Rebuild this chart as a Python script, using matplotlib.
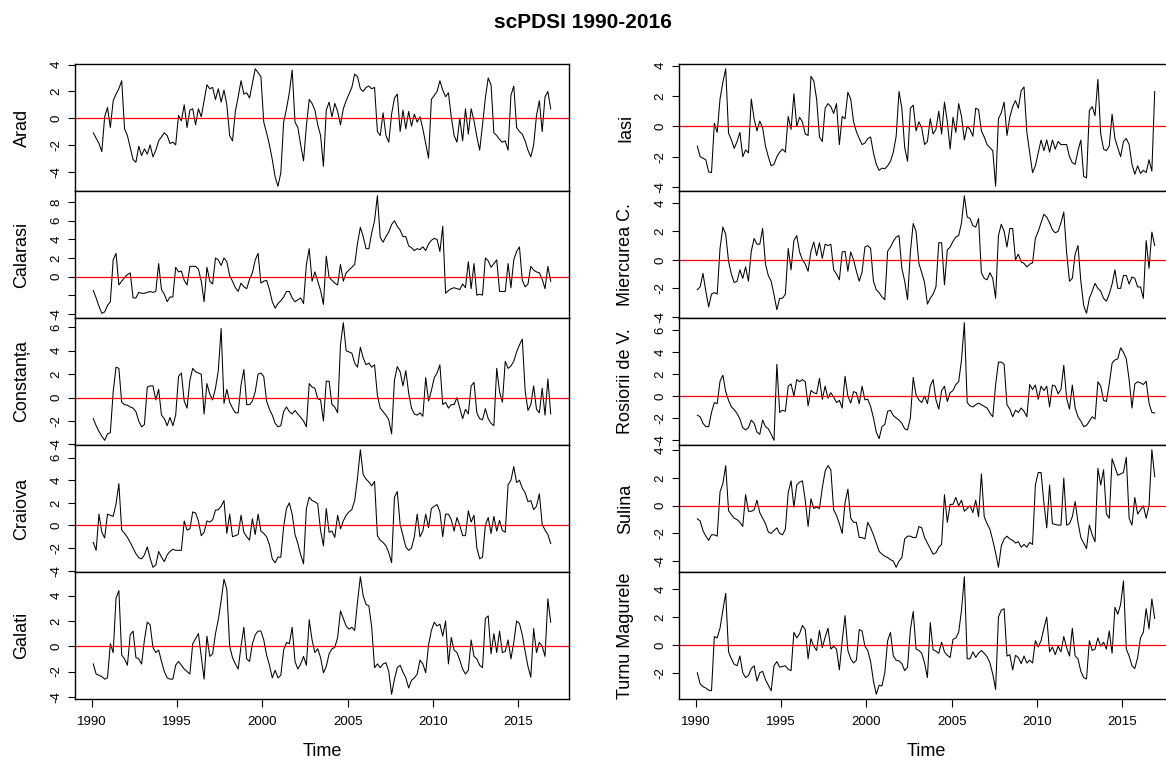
import matplotlib
matplotlib.use('Agg')
import matplotlib.pyplot as plt
import numpy as np
from matplotlib.ticker import MultipleLocator, FuncFormatter

plt.rcParams['font.family'] = ['Liberation Sans', 'DejaVu Sans']
plt.rcParams['axes.unicode_minus'] = False

# scPDSI every two months, Feb 1990 .. Dec 2016
time = 1990 + (2 * np.arange(162) + 1) / 12.0

arad = [
    -1.1, -1.5, -1.9, -2.5, 0.1, 0.8,
    -0.7, 1.3, 1.8, 2.2, 2.8, -0.8,
    -1.3, -2.2, -3.1, -3.3, -2.1, -2.8,
    -2.3, -2.7, -2.0, -2.9, -2.4, -1.7,
    -1.4, -1.1, -1.3, -1.9, -1.8, -2.0,
    0.2, -0.2, 1.0, -0.7, 0.6, 0.7,
    -0.5, 0.7, 0.1, 1.3, 2.5, 2.2,
    2.3, 1.4, 2.2, 1.2, 2.1, 1.0,
    -1.3, -1.7, 0.5, 1.6, 2.8, 1.8,
    1.9, 1.5, 2.6, 3.7, 3.4, 3.1,
    -0.3, -1.1, -2.0, -3.1, -4.4, -5.1,
    -4.1, -0.3, 0.7, 1.9, 3.6, -0.3,
    -0.7, -2.0, -3.2, -0.6, 1.4, 1.1,
    0.6, -0.5, -1.3, -3.6, 0.6, 1.2,
    0.1, 1.1, 0.5, -0.5, 0.7, 1.3,
    1.8, 2.3, 3.3, 3.1, 2.2, 2.0,
    2.3, 2.4, 2.2, 2.3, -1.0, -1.3,
    0.4, -1.3, -1.8, 0.3, 1.5, 1.8,
    -1.0, 0.6, -0.8, 0.5, -0.6, 0.3,
    -0.3, 0.1, -0.8, -1.9, -3.0, 1.4,
    1.7, 2.0, 2.8, 2.1, 1.6, 1.9,
    0.1, -1.3, -1.8, 0.0, -1.7, 0.7,
    -1.2, 0.7, -0.2, -1.4, -2.4, -0.5,
    1.5, 3.0, 2.5, -1.1, -1.3, -1.6,
    -1.8, -1.7, -2.4, 1.7, 2.4, -0.7,
    -1.0, -1.2, -1.7, -2.4, -2.9, -2.0,
    0.2, 1.3, -1.0, 1.6, 2.0, 0.7,
]

calarasi = [
    -1.5, -2.3, -3.2, -3.95, -3.8, -3.1,
    -2.7, 1.8, 2.5, -0.9, -0.5, -0.1,
    0.2, 0.4, -2.3, -2.3, -1.7, -1.8,
    -1.8, -1.7, -1.6, -1.7, -1.6, 1.4,
    -1.4, -1.9, -2.7, -2.2, -2.2, 1.0,
    0.5, 0.6, -0.4, -0.9, 1.1, 1.1,
    1.1, 0.8, -0.5, -2.7, 1.0, -0.5,
    -0.8, 2.0, 1.8, 1.2, 2.0, 1.6,
    0.1, -0.5, -1.2, -1.6, -0.7, -1.1,
    -1.3, -0.3, 0.4, 1.8, 2.5, -0.7,
    -0.5, -0.4, -1.4, -2.7, -3.4, -2.9,
    -2.6, -2.2, -1.6, -1.6, -2.3, -2.7,
    -2.5, -2.3, -2.9, 1.3, 3.0, -0.5,
    0.5, -0.5, -1.5, -3.0, 2.2, -0.1,
    -0.4, -0.7, -0.9, 1.3, -0.5, 0.4,
    0.7, 1.0, 1.3, 3.6, 5.3, 4.3,
    3.0, 3.0, 4.7, 6.0, 8.7, 4.2,
    3.7, 4.3, 4.8, 5.6, 6.0, 5.4,
    5.0, 4.3, 4.3, 3.3, 3.1, 2.8,
    3.0, 2.9, 3.2, 2.8, 3.5, 3.9,
    4.1, 4.0, 2.7, 5.4, -1.8, -1.5,
    -1.3, -1.2, -1.3, -1.4, -0.8, -1.2,
    1.6, -1.3, 1.4, -2.0, -1.9, -2.0,
    2.0, 1.7, 1.0, 1.4, 1.8, -1.6,
    -1.6, -1.6, 1.4, -1.2, 1.8, 2.7,
    3.2, -0.4, -1.1, -0.8, 1.1, 0.7,
    0.5, 0.4, -0.3, -1.3, 1.1, -0.5,
]

constanta = [
    -1.8, -2.4, -2.9, -3.3, -3.65, -3.1,
    -3.0, 0.5, 2.6, 2.5, -0.4, -0.6,
    -0.65, -0.8, -0.9, -1.2, -2.0, -2.5,
    -2.3, 0.9, 1.0, 1.0, -0.2, 0.7,
    -1.5, -1.8, -2.4, -1.7, -2.4, -1.5,
    1.8, 2.1, -0.3, -0.9, 1.5, 2.5,
    2.2, 2.1, 2.0, -1.4, 1.2, 0.3,
    -0.2, 0.8, 2.3, 5.9, -0.5, 0.7,
    -0.4, -0.9, -1.3, -1.3, 1.1, 2.4,
    -0.6, -0.6, -0.3, 0.5, 2.0, 2.1,
    1.8, -0.3, -1.0, -1.5, -2.2, -2.5,
    -2.4, -1.2, -0.8, -1.2, -1.4, -1.1,
    -1.4, -1.7, -2.0, -2.5, 1.2, 0.9,
    0.8, -0.1, -0.2, -2.0, 1.4, 1.4,
    -0.6, -0.8, -1.3, 4.5, 6.4, 4.0,
    3.9, 3.8, 2.95, 2.6, 4.3, 3.4,
    2.8, 2.95, 2.6, 2.8, 0.2, -0.9,
    -1.2, -1.5, -1.9, -3.1, 1.5, 2.65,
    2.2, 1.0, 2.3, 0.4, -0.9, -1.4,
    -1.5, -1.3, -1.6, 1.7, -0.3, 0.6,
    1.7, 2.1, 2.8, -0.6, -0.4, -0.9,
    -0.6, -0.6, 0.0, -0.9, -1.8, -1.0,
    -1.4, 1.0, 1.3, -1.3, -1.8, -1.9,
    -0.95, -1.8, -2.2, -2.4, 2.5, 0.5,
    -0.4, 3.1, 2.5, 2.7, 3.1, 3.9,
    4.5, 5.0, 0.6, -1.1, -0.6, 1.0,
    -1.0, -1.3, 0.8, -1.5, 1.6, -1.4,
]

craiova = [
    -1.5, -2.2, 1.0, -0.6, -1.1, 1.0,
    0.9, 0.8, 1.9, 3.7, -0.4, -0.7,
    -1.05, -1.5, -2.0, -2.5, -2.85, -2.95,
    -2.6, -1.9, -2.9, -3.7, -3.5, -2.3,
    -2.8, -3.2, -2.6, -2.3, -2.1, -2.2,
    -2.2, -2.2, 0.4, -0.4, -0.3, 1.2,
    1.1, 0.4, -0.9, -0.6, 0.4, 0.3,
    0.5, 1.35, 1.4, 1.7, 2.2, -0.7,
    1.0, -1.0, -0.9, -0.8, 0.9, -0.6,
    -1.0, -1.3, 0.6, -0.8, 1.0, -0.5,
    -0.7, -1.0, -1.7, -2.95, -3.3, -2.8,
    -2.8, -0.1, 1.5, 2.0, 1.0, -0.8,
    -1.6, -2.6, -3.4, 1.5, 2.5, 2.2,
    2.1, 1.9, -0.45, -1.8, 1.5, -0.6,
    -0.5, -1.05, 0.9, -0.3, 0.4, 0.9,
    1.2, 1.4, 2.2, 4.2, 6.7, 4.5,
    4.1, 3.85, 3.5, 3.9, -0.9, -1.3,
    -1.5, -1.8, -2.4, -3.3, 2.5, 3.0,
    0.1, -0.9, -1.9, -2.2, -2.0, -1.0,
    1.0, -1.0, -0.5, 1.0, -0.2, 1.5,
    1.7, 1.85, 1.2, -1.0, 1.0, 1.0,
    0.5, -0.5, 0.7, 0.0, -0.9, -0.9,
    1.3, 0.3, 0.9, -2.0, -2.95, -2.8,
    0.0, 0.7, -0.7, 0.8, -0.5, 0.45,
    -0.45, -0.6, 3.6, 4.0, 5.2, 3.8,
    4.0, 3.3, 2.9, 2.1, 2.2, 1.4,
    1.7, 2.8, 0.1, -0.4, -0.8, -1.6,
]

galati = [
    -1.4, -2.2, -2.3, -2.4, -2.6, -2.5,
    0.2, -0.5, 3.8, 4.4, -0.7, -1.0,
    -1.5, 0.9, 1.2, -0.9, -1.0, -1.4,
    0.5, 1.9, 1.7, -0.1, -0.5, -0.3,
    -1.2, -2.0, -2.5, -2.6, -2.6, -1.5,
    -1.2, -1.5, -1.8, -2.0, -2.2, 0.2,
    0.6, 1.0, -0.8, -2.6, 0.8, -0.8,
    -0.6, 1.0, 2.1, 3.6, 5.3, 4.5,
    0.0, -0.9, -1.4, -1.8, 0.0, 1.5,
    -1.0, -1.2, 0.2, 0.9, 1.2, 1.2,
    0.5, -0.7, -1.5, -2.5, -1.9, -2.5,
    -2.3, -0.3, 0.3, 0.2, 1.5, -1.2,
    -1.8, -1.4, -0.8, -1.5, 2.1, 0.5,
    -0.5, -0.2, -0.9, -2.1, -1.6, -0.6,
    -0.2, -0.1, 0.7, 2.8, 2.2, 1.6,
    1.35, 1.5, 1.25, 3.5, 5.5, 4.0,
    3.3, 3.2, 1.5, -1.7, -1.4, -1.7,
    -1.4, -1.3, -2.0, -3.8, -2.6, -1.7,
    -1.5, -2.05, -2.5, -3.3, -2.7, -2.5,
    -2.2, -1.1, -1.4, -2.1, 0.1, 1.25,
    1.9, 1.6, 1.75, 0.8, 2.0, -1.4,
    0.7, -0.3, -0.5, -1.1, -1.8, -2.2,
    -1.9, 0.5, -0.8, -1.0, -1.5, -1.7,
    2.2, 2.4, -0.6, 1.0, -0.5, 1.2,
    -0.5, -0.4, 0.5, -1.0, 0.3, 2.0,
    1.8, 0.9, -0.4, -1.6, -2.45, 1.4,
    -0.5, 0.3, 0.0, -0.8, 3.75, 1.9,
]

iasi = [
    -1.3, -2.0, -2.1, -2.2, -3.0, -3.05,
    0.2, -0.4, 1.8, 2.9, 3.8, -0.45,
    -0.9, -1.45, -1.0, -0.4, -2.0, -1.55,
    -1.75, 1.8, 0.5, -0.3, 0.35, -0.1,
    -1.3, -2.0, -2.6, -2.5, -2.0, -1.7,
    -1.5, -1.7, 0.65, -0.2, 2.15, 0.0,
    0.6, 0.3, -0.5, -0.6, 3.3, 3.0,
    1.8, -0.7, -1.0, 1.2, 1.5, 1.3,
    0.85, 1.5, -1.2, 0.65, 0.5, 2.25,
    1.8, 0.3, -0.35, -0.8, -1.2, -1.1,
    -0.8, -0.7, -1.75, -2.5, -2.9, -2.75,
    -2.8, -2.6, -2.3, -1.7, -0.65, 2.3,
    1.2, -1.4, -2.3, 1.2, 1.4, -0.3,
    0.3, -0.1, -1.2, -1.0, 0.5, -0.5,
    -0.2, 1.0, -0.5, 1.6, 0.3, -1.5,
    0.6, -0.4, 1.5, 0.65, -0.9, 0.0,
    -0.2, -0.65, 1.2, 1.1, -0.3, -0.7,
    -1.2, -1.4, -1.6, -3.95, 0.5, 0.9,
    1.6, -0.6, 0.6, 1.3, 1.7, 1.2,
    2.35, 2.6, -0.4, -1.7, -3.05, -2.6,
    -1.75, -0.9, -1.6, -0.9, -1.7, -0.9,
    -1.5, -1.0, -1.2, -1.2, -1.2, -2.0,
    -2.4, -2.5, -1.6, -0.9, -3.3, -3.4,
    1.05, 1.3, 0.7, 3.1, -0.5, -1.5,
    -1.6, -1.3, 0.8, -0.8, -1.4, -2.0,
    -1.0, -0.8, -1.2, -2.5, -3.15, -2.6,
    -3.1, -2.9, -3.05, -2.2, -2.95, 2.3,
]

miercurea = [
    -2.1, -1.9, -0.95, -2.2, -3.3, -2.4,
    -2.3, -2.4, 0.8, 2.3, 1.8, -0.1,
    -1.0, -1.6, -1.5, -0.7, -1.3, -0.5,
    -1.5, 0.6, 1.5, 1.1, 1.1, 2.2,
    -0.3, -1.1, -1.5, -2.45, -3.5, -2.7,
    -2.7, -2.4, 0.8, -0.7, 1.35, 1.7,
    0.55, 0.0, -0.3, -0.8, 0.6, 1.25,
    0.3, 1.2, 0.1, 1.1, 1.0, 1.1,
    -0.7, -1.0, -1.4, 0.55, 0.6, -0.8,
    0.55, 0.0, -0.8, -1.5, -0.85, 0.9,
    1.0, 0.8, -1.5, -2.1, -2.3, -2.6,
    -2.8, 0.6, 0.9, 1.3, 1.6, 1.7,
    -0.6, -1.5, -2.8, 0.55, 2.55, 2.0,
    -0.25, -0.9, -1.6, -3.1, -2.7, -2.4,
    -1.9, 1.2, 1.2, -1.75, 0.7, 0.9,
    1.3, 1.6, 1.7, 2.6, 4.5, 3.0,
    2.9, 2.4, 2.3, 2.9, -0.9, -1.3,
    -1.4, -0.9, -1.3, -2.7, 1.7, 2.5,
    2.0, 0.9, 2.2, 2.2, 0.0, 0.4,
    -0.15, -0.25, -0.5, -0.3, -0.2, 1.5,
    2.0, 2.6, 3.2, 3.0, 2.6, 2.1,
    1.9, 2.0, 2.6, 3.35, 0.5, -1.5,
    -1.3, 0.4, 1.0, -1.5, -3.2, -3.75,
    -2.7, -2.2, -1.65, -2.0, -2.2, -2.7,
    -2.9, -2.4, -1.7, -0.7, -2.0, -2.0,
    -1.1, -1.1, -1.7, -1.2, -1.3, -1.9,
    -1.9, -2.7, 1.35, -0.6, 1.95, 1.0,
]

rosiorii = [
    -1.75, -1.9, -2.5, -2.8, -2.8, -1.5,
    -0.6, -0.7, 1.35, 1.9, 0.4, -0.4,
    -1.0, -1.25, -1.6, -2.1, -2.9, -3.1,
    -2.9, -2.2, -2.5, -3.3, -3.5, -2.2,
    -2.8, -3.0, -3.5, -4.05, 2.9, -1.5,
    -1.3, -1.4, 0.9, 1.1, 0.0, 1.5,
    1.3, 1.5, 1.3, -0.9, 0.5, 0.3,
    0.2, 1.6, -0.3, 0.9, -0.2, 0.3,
    -0.1, -0.6, -0.4, -1.1, 1.8, 0.0,
    -0.65, 0.4, 0.3, -0.7, 0.9, -0.35,
    -0.3, -0.95, -2.0, -3.3, -3.9, -2.8,
    -2.6, -1.4, -1.3, -1.8, -2.0, -2.2,
    -2.5, -3.0, -3.1, -2.0, 1.7, 0.1,
    -0.35, -0.6, 0.0, -0.7, 0.9, 1.5,
    -0.35, -1.2, 0.5, 0.9, -0.5, 0.3,
    0.5, 1.05, 1.3, 3.3, 6.7, -0.6,
    -0.9, -1.0, -0.8, -0.65, -0.8, -0.95,
    -1.1, -1.55, -1.9, 1.0, 3.1, 3.1,
    2.9, -0.8, -1.2, -1.9, -1.3, -1.5,
    -1.1, -1.4, -1.9, 1.05, 0.6, 1.0,
    -0.3, 0.9, 0.5, 0.9, -1.0, 1.0,
    0.9, 0.2, 0.6, 2.8, -0.2, -1.2,
    1.0, -1.1, -1.9, -2.3, -2.8, -2.7,
    -2.3, -1.9, -2.1, 1.3, 0.9, -0.4,
    -0.5, 1.1, 3.0, 3.3, 3.4, 4.4,
    4.0, 3.4, 1.5, -1.1, 1.1, 1.3,
    1.2, 1.05, 1.35, -0.65, -1.5, -1.55,
]

sulina = [
    -0.95, -1.1, -1.8, -2.2, -2.5, -2.1,
    -2.1, -2.2, 1.0, 1.6, 2.9, -0.35,
    -0.65, -0.9, -1.0, -1.2, -1.5, 0.8,
    -0.4, -0.4, -0.3, 0.4, -0.5, -0.9,
    -1.3, -1.9, -2.0, -1.8, -1.6, -2.0,
    -2.1, -1.7, 0.95, 1.8, -0.1, 1.5,
    1.7, 1.8, 0.4, -1.5, 0.5, -0.2,
    -0.1, -0.2, 1.3, 2.5, 2.9, 2.6,
    -0.3, -0.7, -1.3, -2.0, 0.2, 1.2,
    -0.9, -1.2, -1.2, -2.3, -2.3, -2.4,
    -1.2, -1.6, -2.1, -2.7, -3.3, -3.5,
    -3.65, -3.75, -3.9, -4.0, -4.45, -4.0,
    -3.75, -2.4, -2.2, -2.2, -2.3, -2.3,
    -1.5, -1.6, -2.3, -2.7, -3.1, -3.5,
    -3.4, -3.0, -2.8, 0.8, -1.2, 0.1,
    0.1, 0.6, 0.0, 0.4, -0.4, -0.2,
    0.0, -0.5, 0.4, -0.8, 2.3, -0.8,
    -1.3, -1.7, -2.5, -3.4, -4.45, -2.9,
    -2.4, -2.2, -2.4, -2.5, -2.7, -2.6,
    -3.0, -2.8, -3.0, -2.65, -2.8, 1.5,
    2.4, 2.4, 0.2, -1.6, 1.5, -1.3,
    -1.35, -1.4, -1.4, 2.0, -1.4, -1.3,
    -0.8, 0.3, -1.2, -2.3, -2.7, -3.1,
    -1.4, -2.1, -2.6, 2.7, 1.5, 2.6,
    -0.6, -0.9, 3.4, 2.8, 2.2, 2.3,
    2.4, 3.5, -0.9, -1.4, 0.6, -0.6,
    -0.3, 0.0, -0.9, 0.0, 4.05, 2.1,
]

turnu = [
    -2.0, -2.8, -3.0, -3.1, -3.25, -3.3,
    0.6, 0.5, 1.2, 2.5, 3.7, -0.5,
    -1.0, -1.4, -1.5, -0.8, -2.0, -2.35,
    -2.2, -1.7, -1.5, -2.6, -2.0, -1.9,
    -2.5, -2.9, -3.3, -1.5, -1.2, -1.6,
    -1.55, -1.5, -1.75, -1.85, 0.9, 0.5,
    0.8, 1.4, 1.1, -1.0, 0.45, -0.1,
    -0.4, 1.05, -0.2, 0.55, 1.2, -0.3,
    -0.1, -0.3, -1.8, 0.3, 2.1, -0.4,
    -1.0, -1.3, -1.1, 1.1, 1.0, -0.1,
    -0.4, -1.2, -2.6, -3.55, -2.9, -2.95,
    -2.0, 0.3, 0.9, -0.8, -1.1, -1.15,
    -1.35, -1.85, -1.6, 1.1, 2.4, -0.3,
    -0.4, -0.6, -1.3, -2.35, 1.6, -0.35,
    -0.45, -0.6, 0.2, -0.5, -0.75, -0.9,
    0.4, 0.5, 0.9, 2.5, 4.9, -1.0,
    -1.0, -0.5, -0.9, -0.6, -0.4, -0.6,
    -0.85, -1.3, -2.1, -3.2, 2.0, 2.5,
    2.6, -0.8, -0.7, -1.8, -0.75, -0.9,
    -1.35, -0.8, -1.3, -1.1, -1.3, 0.3,
    -0.15, 0.3, 1.2, 2.0, -0.5, -0.15,
    -0.7, -0.1, -0.5, 0.6, -0.2, -0.8,
    1.2, -0.8, -1.0, -1.9, -2.35, -2.45,
    0.3, -0.4, -0.3, 0.5, -0.1, 0.2,
    -0.3, 1.0, -0.6, 2.7, 2.2, 2.9,
    4.6, -0.3, -0.8, -1.5, -1.7, -0.9,
    0.5, 0.9, 2.6, 1.15, 3.3, 1.9,
]

left_names = ['Arad', 'Calarasi', 'Constanța', 'Craiova', 'Galati']
right_names = ['Iasi', 'Miercurea C.', 'Rosiorii de V.', 'Sulina', 'Turnu Magurele']
left_series = [arad, calarasi, constanta, craiova, galati]
right_series = [iasi, miercurea, rosiorii, sulina, turnu]
year_ticks = [1990, 1995, 2000, 2005, 2010, 2015]
hidden_labels = {'Calarasi': [-2]}

W, H = 1166, 763
fig = plt.figure(figsize=(W / 100, H / 100), dpi=100)

col_left = [75, 679]
ax_w = 494
top0 = 64
ph = 127

columns = [(left_names, left_series), (right_names, right_series)]
for c, (names, series) in enumerate(columns):
    for i, (name, vals) in enumerate(zip(names, series)):
        top = top0 + ph * i
        ax = fig.add_axes([col_left[c] / W, 1 - (top + ph) / H, ax_w / W, ph / H])
        ax.plot(time, vals, color='black', lw=0.75)
        ax.axhline(0, color='red', lw=0.9)

        # R style 4% padding around the data range
        lo, hi = min(vals), max(vals)
        pad = 0.04 * (hi - lo)
        ax.set_ylim(lo - pad, hi + pad)
        span = time[-1] - time[0]
        ax.set_xlim(time[0] - 0.04 * span, time[-1] + 0.04 * span)

        for sp in ax.spines.values():
            sp.set_linewidth(1.0)
            sp.set_color('black')

        ax.yaxis.set_major_locator(MultipleLocator(2))
        skip = hidden_labels.get(name, [])
        ax.yaxis.set_major_formatter(FuncFormatter(
            lambda v, p, skip=skip: '' if round(v) in skip else '%d' % round(v)))
        ax.tick_params(axis='y', direction='out', length=5, width=0.8,
                       labelsize=9.5, labelrotation=90, pad=4)
        for lab in ax.get_yticklabels():
            lab.set_va('center')

        ax.set_ylabel(name, fontsize=13)
        ax.yaxis.set_label_coords(-53 / ax_w, 0.5)
        ax.yaxis.label.set_va('center')

        if i == len(names) - 1:
            ax.set_xticks(year_ticks)
            ax.set_xticklabels([str(y) for y in year_ticks])
            ax.tick_params(axis='x', direction='out', length=6, width=0.8,
                           labelsize=9.5, pad=6)
            ax.set_xlabel('Time', fontsize=13)
            ax.xaxis.set_label_coords(0.5, -0.41)
            ax.xaxis.label.set_va('center')
        else:
            ax.tick_params(axis='x', bottom=False, labelbottom=False)

fig.text(0.5, 1 - 22 / H, 'scPDSI 1990-2016', ha='center', va='center',
         fontsize=15, fontweight='bold')

fig.savefig('out.png', dpi=100)
